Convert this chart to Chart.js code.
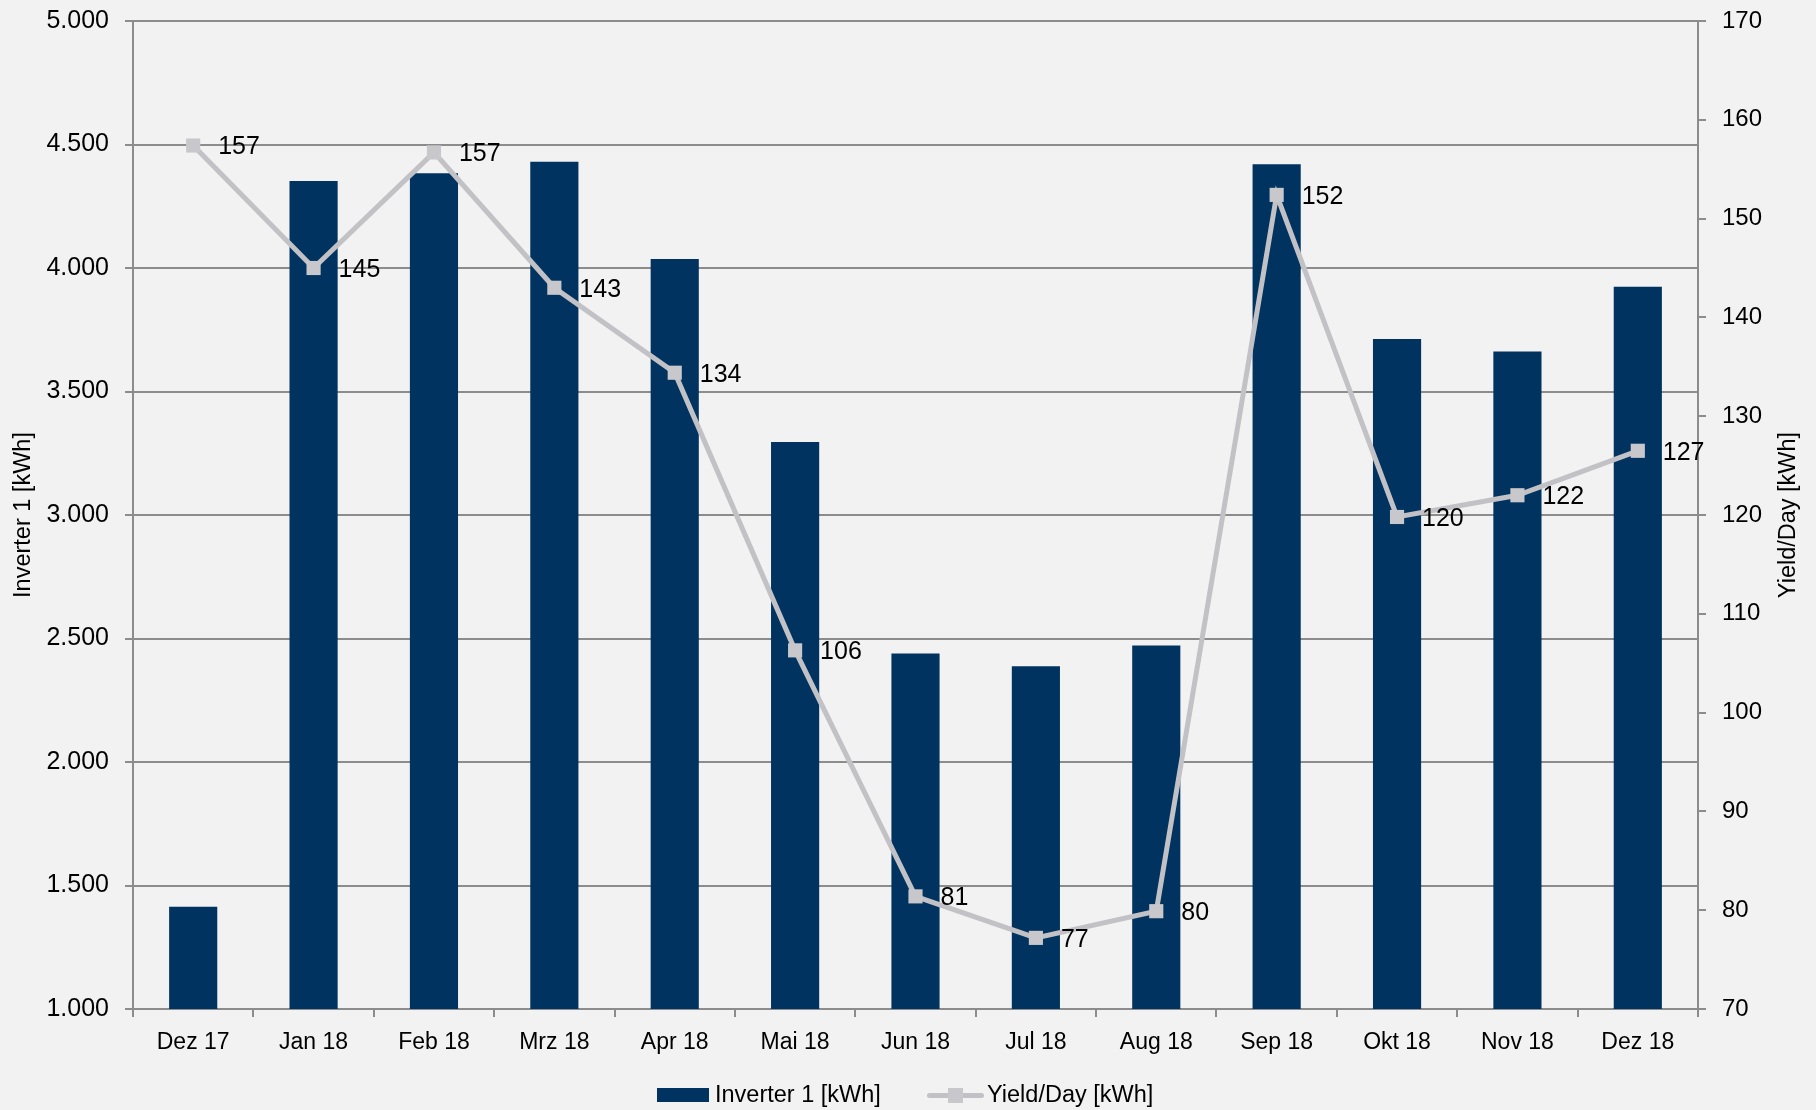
<!DOCTYPE html>
<html>
<head>
<meta charset="utf-8">
<script src="https://cdn.jsdelivr.net/npm/chart.js@4.4.1/dist/chart.umd.min.js"></script>
<style>
  html, body { margin: 0; padding: 0; background: #f2f2f2; }
  #wrap { position: relative; width: 1816px; height: 1110px; background: #f2f2f2; overflow: hidden; }
  #legend { position: absolute; left: 0; top: 1078px; width: 1816px; height: 32px;
    font-family: "Liberation Sans", Arial, sans-serif; font-size: 23.5px; color: #000; }
  .li { position: absolute; top: 0; height: 32px; line-height: 32px; white-space: nowrap; }
  .box { position: absolute; }
</style>
</head>
<body>
<div id="wrap">
  <canvas id="c" width="1816" height="1110"></canvas>
  <div id="legend">
    <div class="box" style="left:657px; top:10px; width:52px; height:14px; background:#00335f;"></div>
    <div class="li" style="left:715px;">Inverter 1 [kWh]</div>
    <div class="box" style="left:927px; top:15px; width:57px; height:5px; background:#c2c2c6; border-radius:3px;"></div>
    <div class="box" style="left:948px; top:10px; width:15px; height:15px; background:#c8c8cc;"></div>
    <div class="li" style="left:987px;">Yield/Day [kWh]</div>
  </div>
</div>
<script>
const categories = ['Dez 17','Jan 18','Feb 18','Mrz 18','Apr 18','Mai 18','Jun 18','Jul 18','Aug 18','Sep 18','Okt 18','Nov 18','Dez 18'];
const inverterValues = [1414, 4352, 4384, 4430, 4036, 3296, 2439, 2388, 2472, 4420, 3713, 3662, 3924];
const yieldPerDay = [157.4, 145.0, 156.7, 143.0, 134.4, 106.3, 81.4, 77.2, 79.9, 152.4, 119.8, 122.0, 126.5];
const leftTickLabels = ['1.000','1.500','2.000','2.500','3.000','3.500','4.000','4.500','5.000'];
const rightTickLabels = ['70','80','90','100','110','120','130','140','150','160','170'];
const leftTitle = 'Inverter 1 [kWh]';
const rightTitle = 'Yield/Day [kWh]';

const GRID = '#8c8c8c';
const FONT = '"Liberation Sans", Arial, sans-serif';

const bgPlugin = {
  id: 'bg',
  beforeDraw(chart) {
    const ctx = chart.ctx;
    ctx.save();
    ctx.fillStyle = '#f2f2f2';
    ctx.fillRect(0, 0, chart.width, chart.height);
    ctx.restore();
  }
};

const labelPlugin = {
  id: 'pointLabels',
  afterDatasetsDraw(chart) {
    const ctx = chart.ctx;
    const meta = chart.getDatasetMeta(0);
    ctx.save();
    ctx.font = '25px ' + FONT;
    ctx.fillStyle = '#000';
    ctx.textAlign = 'left';
    ctx.textBaseline = 'middle';
    meta.data.forEach((pt, i) => {
      ctx.fillText(String(Math.round(yieldPerDay[i])), pt.x + 25, pt.y + 2);
    });
    ctx.restore();
  }
};

const rightTitlePlugin = {
  id: 'rightTitle',
  afterDraw(chart) {
    const ctx = chart.ctx;
    const area = chart.chartArea;
    ctx.save();
    ctx.font = '23.5px ' + FONT;
    ctx.fillStyle = '#000';
    ctx.textAlign = 'center';
    ctx.textBaseline = 'middle';
    ctx.translate(1789, (area.top + area.bottom) / 2);
    ctx.rotate(-Math.PI / 2);
    ctx.fillText(rightTitle, 0, 0);
    ctx.restore();
  }
};

new Chart(document.getElementById('c'), {
  data: {
    labels: categories,
    datasets: [
      {
        type: 'line',
        label: 'Yield/Day [kWh]',
        data: yieldPerDay,
        yAxisID: 'y2',
        order: 1,
        borderColor: '#c2c2c6',
        borderWidth: 5,
        backgroundColor: '#c8c8cc',
        pointStyle: 'rect',
        pointRadius: 10,
        pointBorderWidth: 0,
        pointBackgroundColor: '#c8c8cc',
        tension: 0,
        fill: false
      },
      {
        type: 'bar',
        label: 'Inverter 1 [kWh]',
        data: inverterValues,
        yAxisID: 'y',
        order: 2,
        backgroundColor: '#00335f',
        borderWidth: 0,
        categoryPercentage: 1.0,
        barPercentage: 0.4
      }
    ]
  },
  options: {
    responsive: false,
    animation: false,
    layout: { padding: { top: 20, left: 0, right: 0, bottom: 0 } },
    plugins: {
      legend: { display: false },
      tooltip: { enabled: false }
    },
    scales: {
      x: {
        type: 'category',
        offset: true,
        grid: { display: true, drawOnChartArea: false, drawTicks: true, tickLength: 8, color: GRID, lineWidth: 2, offset: true },
        border: { display: true, color: GRID, width: 2 },
        ticks: { color: '#000', font: { family: FONT, size: 23 }, padding: 12, maxRotation: 0, autoSkip: false },
        afterFit(scale) { scale.height = 101; }
      },
      y: {
        type: 'linear',
        position: 'left',
        min: 1000,
        max: 5000,
        ticks: {
          stepSize: 500,
          color: '#000',
          font: { family: FONT, size: 25, lineHeight: 0.4 },
          padding: 16,
          callback(value) {
            const idx = Math.round((value - 1000) / 500);
            return leftTickLabels[idx];
          }
        },
        grid: { display: true, drawOnChartArea: true, drawTicks: true, tickLength: 8, color: GRID, lineWidth: 2 },
        border: { display: true, color: GRID, width: 2 },
        title: { display: true, text: leftTitle, color: '#000', font: { family: FONT, size: 23.5 }, padding: { top: 9, bottom: 0 } },
        afterFit(scale) { scale.width = 133; }
      },
      y2: {
        type: 'linear',
        position: 'right',
        min: 70,
        max: 170,
        ticks: {
          stepSize: 10,
          color: '#000',
          font: { family: FONT, size: 24, lineHeight: 0.4 },
          padding: 16,
          callback(value) {
            const idx = Math.round((value - 70) / 10);
            return rightTickLabels[idx];
          }
        },
        grid: { display: true, drawOnChartArea: false, drawTicks: true, tickLength: 8, color: GRID, lineWidth: 2 },
        border: { display: true, color: GRID, width: 2 },
        title: { display: false },
        afterFit(scale) { scale.width = 118; }
      }
    }
  },
  plugins: [bgPlugin, labelPlugin, rightTitlePlugin]
});
</script>
</body>
</html>
